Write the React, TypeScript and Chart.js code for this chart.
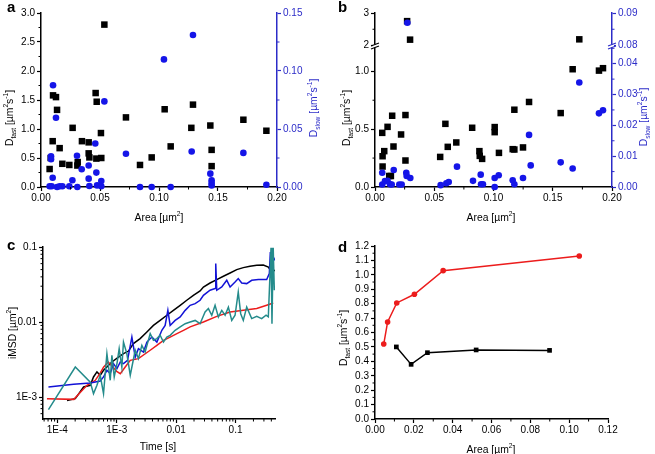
import React, { useEffect, useRef } from 'react';
import { Chart, registerables } from 'chart.js';

Chart.register(...registerables);

const W = 655;
const H = 454;
const FONT = "'Liberation Sans', Arial, Helvetica, sans-serif";
const BLACK = '#000000';
const BLUE_PT = '#1515e8';
const BLUE_AX = '#2c2cc8';
const RED = '#ec1c1c';
const TEAL = '#248b8b';
const BLUE_LN = '#1212d6';

// ---------- Panel a ----------
const aFastArea = [0.0073, 0.0082, 0.0099, 0.0102, 0.0127, 0.0136, 0.0158, 0.0181, 0.024, 0.0268, 0.0311, 0.0308, 0.0347, 0.0404, 0.0404, 0.041, 0.0463, 0.0472, 0.0469, 0.0508, 0.0511, 0.0537, 0.072, 0.0839, 0.0938, 0.1048, 0.1099, 0.1274, 0.1288, 0.1435, 0.1446, 0.1446, 0.1715, 0.191];
const aFastD = [0.31, 0.5, 0.79, 1.58, 1.55, 1.33, 0.67, 0.4, 0.38, 1.02, 0.43, 0.37, 0.79, 0.77, 0.58, 0.51, 1.62, 1.47, 0.49, 0.93, 0.5, 2.8, 1.2, 0.38, 0.51, 1.34, 0.7, 1.02, 1.42, 1.06, 0.64, 0.36, 1.16, 0.97];
const aSlowArea = [0.0073, 0.0085, 0.0085, 0.009, 0.0099, 0.0102, 0.0127, 0.0136, 0.0158, 0.0181, 0.024, 0.0266, 0.0305, 0.0308, 0.0345, 0.0404, 0.0404, 0.041, 0.046, 0.0469, 0.0475, 0.0511, 0.0511, 0.0537, 0.072, 0.0839, 0.0938, 0.1042, 0.1099, 0.1288, 0.1277, 0.1435, 0.1446, 0.1446, 0.1446, 0.1715, 0.191];
const aSlowD = [0.0006, 0.0265, 0.024, 0.0006, 0.008, 0.0877, 0.0597, 0, 0.0006, 0.0006, 0.0006, 0.0058, 0.027, 0, 0.0153, 0.0185, 0.0072, 0.0009, 0.0375, 0.0124, 0.0014, 0.0052, 0.0006, 0.0738, 0.0286, 0, 0, 0.11, 0, 0.131, 0.0306, 0.0115, 0.0058, 0.0035, 0.0014, 0.0294, 0.002];
const areaTicks = [0, 0.05, 0.1, 0.15, 0.2];
const areaLabels = ['0.00', '0.05', '0.10', '0.15', '0.20'];
const aFastTicks = [0, 0.5, 1, 1.5, 2, 2.5, 3];
const aFastLabels = ['0.0', '0.5', '1.0', '1.5', '2.0', '2.5', '3.0'];
const aSlowTicks = [0, 0.05, 0.1, 0.15];
const aSlowLabels = ['0.00', '0.05', '0.10', '0.15'];

// ---------- Panel b ----------
const bFastArea = [0.0061, 0.0064, 0.0064, 0.0078, 0.0106, 0.012, 0.0134, 0.0145, 0.0156, 0.022, 0.0257, 0.0257, 0.0271, 0.0296, 0.055, 0.0594, 0.0614, 0.0686, 0.082, 0.0881, 0.0884, 0.0904, 0.101, 0.101, 0.1046, 0.1162, 0.1176, 0.1176, 0.1249, 0.13, 0.1567, 0.1668, 0.1724, 0.189, 0.1924];
const bFastD = [0.468, 0.266, 0.177, 0.31, 0.52, 0.095, 0.095, 0.616, 0.35, 0.454, 0.622, 0.229, 2.75, 2.18, 0.26, 0.546, 0.347, 0.385, 0.512, 0.31, 0.269, 0.243, 0.518, 0.474, 0.295, 0.327, 0.324, 0.668, 0.342, 0.735, 0.639, 1.018, 2.19, 1.006, 1.027];
const bSlowArea = [0.0061, 0.0061, 0.0084, 0.0106, 0.0127, 0.0141, 0.0158, 0.0205, 0.0225, 0.0264, 0.0267, 0.0273, 0.0298, 0.0554, 0.0602, 0.0622, 0.0692, 0.0827, 0.0892, 0.0895, 0.0911, 0.101, 0.101, 0.1044, 0.1162, 0.1176, 0.1249, 0.13, 0.1314, 0.1567, 0.1668, 0.1724, 0.189, 0.1924];
const bSlowD = [0.0046, 0.0008, 0.0019, 0.002, 0.0009, 0.0008, 0.0055, 0.0008, 0.0008, 0.0046, 0.0036, 0.087, 0.0029, 0.0006, 0.0012, 0.0016, 0.0066, 0.002, 0.004, 0.0009, 0.0009, 0.0029, 0, 0.0038, 0.0022, 0.0009, 0.0029, 0.0169, 0.007, 0.008, 0.006, 0.0339, 0.0239, 0.0249];
const bFastLowRange = [0, 1.223];
const bFastHighRange = [2, 3];
const bSlowLowRange = [0, 0.0459];
const bSlowHighRange = [0.08, 0.09];
const bFastLowTicks = [0, 0.5, 1];
const bFastLowLabels = ['0.0', '0.5', '1.0'];
const bFastHighTicks = [2, 3];
const bFastHighLabels = ['2', '3'];
const bSlowLowTicks = [0, 0.01, 0.02, 0.03, 0.04];
const bSlowLowLabels = ['0.00', '0.01', '0.02', '0.03', '0.04'];
const bSlowHighTicks = [0.08, 0.09];
const bSlowHighLabels = ['0.08', '0.09'];

// ---------- Panel c ----------
const cBlackT = [1.46e-4, 2.01e-4, 2.77e-4, 3.59e-4, 4.07e-4, 4.65e-4, 5.28e-4, 6.0e-4, 6.84e-4, 8.3e-4, 1.07e-3, 1.3e-3, 1.58e-3, 1.91e-3, 2.48e-3, 3.22e-3, 4.15e-3, 5.38e-3, 6.98e-3, 9.0e-3, 0.0117, 0.0151, 0.0195, 0.0253, 0.0288, 0.0372, 0.0483, 0.0624, 0.0809, 0.1047, 0.135, 0.175, 0.227, 0.293, 0.356, 0.405, 0.461];
const cBlackV = [0.0009, 0.00095, 0.00136, 0.00143, 0.00185, 0.00216, 0.00195, 0.00227, 0.00251, 0.00293, 0.00341, 0.00379, 0.0041, 0.00515, 0.006, 0.00736, 0.009, 0.0105, 0.0123, 0.0143, 0.0167, 0.0195, 0.0227, 0.0259, 0.0293, 0.0331, 0.0368, 0.0407, 0.045, 0.05, 0.0531, 0.0553, 0.057, 0.0575, 0.0541, 0.0464, 0.049];
const cBlueT = [7.1e-5, 1.88e-4, 3.59e-4, 5.28e-4, 6.0e-4, 6.84e-4, 7.78e-4, 8.83e-4, 1.01e-3, 1.15e-3, 1.3e-3, 1.52e-3, 1.8e-3, 2.05e-3, 2.32e-3, 2.82e-3, 3.22e-3, 3.91e-3, 4.74e-3, 5.75e-3, 6.53e-3, 7.26e-3, 7.93e-3, 9.62e-3, 0.0117, 0.0142, 0.0172, 0.0209, 0.0253, 0.0288, 0.0372, 0.0452, 0.0464, 0.0483, 0.0586, 0.0711, 0.0809, 0.0981, 0.111, 0.127, 0.154, 0.187, 0.242, 0.334, 0.37, 0.385, 0.41, 0.43, 0.46];
const cBlueV = [0.00136, 0.00148, 0.00154, 0.00163, 0.00185, 0.00227, 0.00205, 0.00279, 0.00239, 0.00293, 0.00279, 0.00308, 0.0063, 0.00341, 0.00441, 0.00398, 0.0054, 0.0063, 0.0054, 0.00775, 0.009, 0.0143, 0.009, 0.0105, 0.0117, 0.0143, 0.0167, 0.0176, 0.0195, 0.0227, 0.0265, 0.0279, 0.0601, 0.0265, 0.0293, 0.036, 0.0293, 0.0341, 0.0379, 0.0331, 0.0325, 0.036, 0.0368, 0.0368, 0.0441, 0.0858, 0.0398, 0.0736, 0.0665];
const cRedT = [6.7e-5, 1.9e-4, 2.3e-4, 3.16e-4, 4.36e-4, 5.3e-4, 6.0e-4, 7.2e-4, 8.3e-4, 1.0e-3, 1.15e-3, 1.39e-3, 1.69e-3, 2.32e-3, 3.66e-3, 4.74e-3, 6.12e-3, 7.93e-3, 0.0103, 0.0133, 0.0172, 0.0288, 0.0483, 0.0809, 0.135, 0.227, 0.334, 0.43];
const cRedV = [0.00095, 0.00093, 0.0011, 0.00143, 0.00167, 0.0021, 0.0025, 0.00293, 0.0026, 0.0022, 0.00205, 0.00251, 0.00308, 0.00325, 0.0042, 0.00489, 0.0057, 0.0063, 0.007, 0.00775, 0.0086, 0.01, 0.0119, 0.0136, 0.0143, 0.0151, 0.0167, 0.0179];
const cTealT = [7.1e-5, 2.01e-4, 3.59e-4, 4.07e-4, 4.65e-4, 5.28e-4, 6.0e-4, 6.84e-4, 7.78e-4, 8.3e-4, 9.08e-4, 1.01e-3, 1.1e-3, 1.22e-3, 1.3e-3, 1.48e-3, 1.69e-3, 2.05e-3, 2.32e-3, 2.65e-3, 3.01e-3, 3.66e-3, 4.15e-3, 4.74e-3, 5.38e-3, 6.12e-3, 6.98e-3, 7.93e-3, 9.62e-3, 0.0117, 0.0142, 0.0172, 0.0209, 0.0253, 0.0307, 0.0349, 0.0398, 0.0452, 0.0514, 0.0586, 0.0667, 0.0757, 0.0863, 0.0981, 0.111, 0.122, 0.135, 0.154, 0.187, 0.227, 0.275, 0.326, 0.356, 0.38, 0.395, 0.41, 0.43, 0.449];
const cTealV = [0.00068, 0.00251, 0.00158, 0.00111, 0.00143, 0.00195, 0.00111, 0.00379, 0.00167, 0.0036, 0.00185, 0.00279, 0.00441, 0.00251, 0.0054, 0.00379, 0.00195, 0.0042, 0.00325, 0.00489, 0.00398, 0.007, 0.0057, 0.006, 0.00665, 0.0054, 0.0063, 0.00665, 0.00775, 0.0086, 0.0095, 0.01, 0.0105, 0.0095, 0.0136, 0.0151, 0.0123, 0.0167, 0.0117, 0.0143, 0.0123, 0.0158, 0.0105, 0.0123, 0.0251, 0.0129, 0.0105, 0.0158, 0.0111, 0.0119, 0.0111, 0.0123, 0.0117, 0.0441, 0.098, 0.0095, 0.098, 0.0265];
const cTimeRange = [5.75e-5, 0.461];
const cMsdRange = [5.09e-4, 0.1];
const cTimeTicks = [1e-4, 1e-3, 1e-2, 1e-1];
const cTimeLabels = ['1E-4', '1E-3', '0.01', '0.1'];
const cMsdTicks = [1e-3, 1e-2, 1e-1];
const cMsdLabels = ['1E-3', '0.01', '0.1'];

// ---------- Panel d ----------
const dRedArea = [0.0045, 0.0065, 0.0112, 0.0203, 0.0351, 0.1052];
const dRedD = [0.52, 0.673, 0.805, 0.865, 1.029, 1.131];
const dBlackArea = [0.011, 0.0186, 0.027, 0.0521, 0.0899];
const dBlackD = [0.5, 0.379, 0.46, 0.479, 0.476];
const dAreaTicks = [0, 0.02, 0.04, 0.06, 0.08, 0.1, 0.12];
const dAreaLabels = ['0.00', '0.02', '0.04', '0.06', '0.08', '0.10', '0.12'];
const dDTicks = [0, 0.1, 0.2, 0.3, 0.4, 0.5, 0.6, 0.7, 0.8, 0.9, 1.0, 1.1, 1.2];
const dDLabels = ['0.0', '0.1', '0.2', '0.3', '0.4', '0.5', '0.6', '0.7', '0.8', '0.9', '1.0', '1.1', '1.2'];

// ---------- helpers ----------
const pts = (xs: number[], ys: number[]) => xs.map((x, i) => ({ x, y: ys[i] }));
const pick = (xs: number[], ys: number[], keep: (y: number) => boolean) =>
  pts(xs, ys).filter((p) => keep(p.y));

const halfMinors = (ticks: number[], lo: number, hi: number) => {
  const step = ticks[1] - ticks[0];
  return [ticks[0] - step / 2, ...ticks.map((t) => t + step / 2)].filter(
    (v) => v >= lo - 1e-9 && v <= hi + 1e-9
  );
};
const logMinors = (lo: number, hi: number) => {
  const out: number[] = [];
  for (let e = -6; e <= 1; e++) {
    for (let m = 2; m <= 9; m++) {
      const v = m * Math.pow(10, e);
      if (v >= lo && v <= hi) out.push(v);
    }
  }
  return out;
};

type Seg = { t: string; k?: 'sub' | 'sup' };
type TitleSpec = { segs: Seg[]; x: number; y: number; vertical?: boolean; color?: string };
type MinorSpec = { id: string; values: number[]; color?: string };
type DecoSpec = {
  letter: { t: string; x: number; y: number };
  titles: TitleSpec[];
  minors: MinorSpec[];
  breaks?: { id: string; color: string }[];
};

const D_FAST: Seg[] = [{ t: 'D' }, { t: 'fast', k: 'sub' }, { t: ' [µm' }, { t: '2', k: 'sup' }, { t: 's' }, { t: '-1', k: 'sup' }, { t: ']' }];
const D_SLOW: Seg[] = [{ t: 'D' }, { t: 'slow', k: 'sub' }, { t: ' [µm' }, { t: '2', k: 'sup' }, { t: 's' }, { t: '-1', k: 'sup' }, { t: ']' }];
const AREA: Seg[] = [{ t: 'Area [µm' }, { t: '2', k: 'sup' }, { t: ']' }];
const IMSD: Seg[] = [{ t: 'iMSD [µm' }, { t: '2', k: 'sup' }, { t: ']' }];
const TIME: Seg[] = [{ t: 'Time [s]' }];

function drawRich(ctx: CanvasRenderingContext2D, spec: TitleSpec) {
  const size = 11.5;
  const small = size * 0.64;
  ctx.save();
  ctx.translate(spec.x, spec.y);
  if (spec.vertical) ctx.rotate(-Math.PI / 2);
  ctx.scale(0.9, 1);
  ctx.fillStyle = spec.color || BLACK;
  ctx.textBaseline = 'alphabetic';
  ctx.textAlign = 'left';
  let w = 0;
  for (const s of spec.segs) {
    ctx.font = `${s.k ? small : size}px ${FONT}`;
    w += ctx.measureText(s.t).width;
  }
  let cx = -w / 2;
  const base = size * 0.36;
  for (const s of spec.segs) {
    ctx.font = `${s.k ? small : size}px ${FONT}`;
    const dy = s.k === 'sub' ? size * 0.28 : s.k === 'sup' ? -size * 0.42 : 0;
    ctx.fillText(s.t, cx, base + dy);
    cx += ctx.measureText(s.t).width;
  }
  ctx.restore();
}

function makeDeco(d: DecoSpec) {
  return {
    id: 'deco',
    afterDraw(chart: any) {
      const ctx: CanvasRenderingContext2D = chart.ctx;
      for (const m of d.minors) {
        const s = chart.scales[m.id];
        if (!s) continue;
        ctx.save();
        ctx.strokeStyle = m.color || BLACK;
        ctx.lineWidth = 1;
        ctx.beginPath();
        for (const v of m.values) {
          if (v < s.min || v > s.max) continue;
          const p = s.getPixelForValue(v);
          if (s.isHorizontal()) {
            ctx.moveTo(p, s.top);
            ctx.lineTo(p, s.top + 2.5);
          } else if (s.position === 'left') {
            ctx.moveTo(s.right, p);
            ctx.lineTo(s.right - 2.5, p);
          } else {
            ctx.moveTo(s.left, p);
            ctx.lineTo(s.left + 2.5, p);
          }
        }
        ctx.stroke();
        ctx.restore();
      }
      for (const b of d.breaks || []) {
        const s = chart.scales[b.id];
        if (!s) continue;
        const x = s.position === 'left' ? s.right : s.left;
        const y = s.bottom;
        ctx.save();
        ctx.fillStyle = '#ffffff';
        ctx.fillRect(x - 2, y - 1, 4, 3);
        ctx.strokeStyle = b.color;
        ctx.lineWidth = 1.2;
        ctx.beginPath();
        ctx.moveTo(x - 4, y + 0.5);
        ctx.lineTo(x + 4, y - 2.5);
        ctx.moveTo(x - 4, y + 3.5);
        ctx.lineTo(x + 4, y + 0.5);
        ctx.stroke();
        ctx.restore();
      }
      for (const t of d.titles) drawRich(ctx, t);
      ctx.save();
      ctx.fillStyle = BLACK;
      ctx.font = `bold 15px ${FONT}`;
      ctx.textBaseline = 'alphabetic';
      ctx.textAlign = 'left';
      ctx.fillText(d.letter.t, d.letter.x, d.letter.y);
      ctx.restore();
    },
  };
}

type AxisOpts = {
  pos: 'left' | 'right' | 'bottom';
  type?: 'linear' | 'logarithmic';
  min: number;
  max: number;
  ticks: number[];
  labels: string[];
  color?: string;
  stack?: string;
  weight?: number;
};

function axis(o: AxisOpts) {
  const color = o.color || BLACK;
  const horiz = o.pos === 'bottom';
  const s: any = {
    type: o.type || 'linear',
    position: o.pos,
    bounds: 'data',
    min: o.min,
    max: o.max,
    border: { display: true, color, width: 1.5 },
    grid: { display: true, drawOnChartArea: false, drawTicks: true, tickLength: 4, tickWidth: 1.2, color },
    ticks: {
      color,
      font: { family: FONT, size: 10 },
      padding: horiz ? 1 : 2,
      autoSkip: false,
      maxRotation: 0,
      minRotation: 0,
      callback: (_v: any, i: number) => o.labels[i] ?? '',
    },
    afterBuildTicks: (sc: any) => {
      sc.ticks = o.ticks.map((v) => ({ value: v }));
    },
    afterFit: (sc: any) => {
      if (horiz) sc.height = 20;
      else sc.width = 30;
    },
  };
  if (o.stack) {
    s.stack = o.stack;
    s.stackWeight = o.weight;
  }
  return s;
}

function baseOptions(padding: any, scales: any) {
  return {
    responsive: false,
    maintainAspectRatio: false,
    animation: false,
    events: [],
    layout: { padding },
    plugins: { legend: { display: false }, title: { display: false }, tooltip: { enabled: false } },
    scales,
  };
}

const scatterSet = (data: any[], yAxisID: string, color: string, style: string, r: number, order: number) => ({
  data,
  yAxisID,
  xAxisID: 'x',
  showLine: false,
  pointStyle: style,
  pointRadius: r,
  pointHoverRadius: r,
  pointBackgroundColor: color,
  pointBorderColor: color,
  pointBorderWidth: 0,
  backgroundColor: color,
  borderColor: color,
  clip: false,
  order,
});

function makeA(canvas: HTMLCanvasElement) {
  return new Chart(canvas, {
    type: 'scatter',
    data: {
      datasets: [
        scatterSet(pts(aSlowArea, aSlowD), 'yR', BLUE_PT, 'circle', 3.3, 0),
        scatterSet(pts(aFastArea, aFastD), 'y', BLACK, 'rect', 4.6, 1),
      ] as any,
    },
    options: baseOptions({ left: 11, right: 348, top: 13, bottom: 247 }, {
      x: axis({ pos: 'bottom', min: 0, max: 0.2, ticks: areaTicks, labels: areaLabels }),
      y: axis({ pos: 'left', min: 0, max: 3, ticks: aFastTicks, labels: aFastLabels }),
      yR: axis({ pos: 'right', min: 0, max: 0.15, ticks: aSlowTicks, labels: aSlowLabels, color: BLUE_AX }),
    }) as any,
    plugins: [
      makeDeco({
        letter: { t: 'a', x: 7, y: 12 },
        titles: [
          { segs: D_FAST, x: 9, y: 118, vertical: true },
          { segs: D_SLOW, x: 313, y: 108, vertical: true, color: BLUE_AX },
          { segs: AREA, x: 159, y: 217 },
        ],
        minors: [
          { id: 'x', values: halfMinors(areaTicks, 0, 0.2) },
          { id: 'y', values: halfMinors(aFastTicks, 0, 3) },
          { id: 'yR', values: halfMinors(aSlowTicks, 0, 0.15), color: BLUE_AX },
        ],
      }),
    ],
  });
}

function makeB(canvas: HTMLCanvasElement) {
  const hiF = (v: number) => v >= bFastHighRange[0];
  const hiS = (v: number) => v >= bSlowHighRange[0];
  return new Chart(canvas, {
    type: 'scatter',
    data: {
      datasets: [
        scatterSet(pick(bSlowArea, bSlowD, (v) => !hiS(v)), 'rL', BLUE_PT, 'circle', 3.3, 0),
        scatterSet(pick(bSlowArea, bSlowD, hiS), 'rU', BLUE_PT, 'circle', 3.3, 0),
        scatterSet(pick(bFastArea, bFastD, (v) => !hiF(v)), 'yL', BLACK, 'rect', 4.6, 1),
        scatterSet(pick(bFastArea, bFastD, hiF), 'yU', BLACK, 'rect', 4.6, 1),
      ] as any,
    },
    options: baseOptions({ left: 345, right: 13, top: 13, bottom: 247 }, {
      x: axis({ pos: 'bottom', min: 0, max: 0.2, ticks: areaTicks, labels: areaLabels }),
      yL: axis({ pos: 'left', min: bFastLowRange[0], max: bFastLowRange[1], ticks: bFastLowTicks, labels: bFastLowLabels, stack: 'L', weight: 141 }),
      yU: axis({ pos: 'left', min: bFastHighRange[0], max: bFastHighRange[1], ticks: bFastHighTicks, labels: bFastHighLabels, stack: 'L', weight: 32.4 }),
      rU: axis({ pos: 'right', min: bSlowHighRange[0], max: bSlowHighRange[1], ticks: bSlowHighTicks, labels: bSlowHighLabels, color: BLUE_AX, stack: 'R', weight: 32.4 }),
      rL: axis({ pos: 'right', min: bSlowLowRange[0], max: bSlowLowRange[1], ticks: bSlowLowTicks, labels: bSlowLowLabels, color: BLUE_AX, stack: 'R', weight: 141 }),
    }) as any,
    plugins: [
      makeDeco({
        letter: { t: 'b', x: 338, y: 12 },
        titles: [
          { segs: D_FAST, x: 346, y: 118, vertical: true },
          { segs: D_SLOW, x: 643, y: 117, vertical: true, color: BLUE_AX },
          { segs: AREA, x: 491, y: 217 },
        ],
        minors: [
          { id: 'x', values: halfMinors(areaTicks, 0, 0.2) },
          { id: 'yL', values: halfMinors(bFastLowTicks, bFastLowRange[0], bFastLowRange[1]) },
          { id: 'yU', values: halfMinors(bFastHighTicks, bFastHighRange[0], bFastHighRange[1]) },
          { id: 'rL', values: halfMinors(bSlowLowTicks, bSlowLowRange[0], bSlowLowRange[1]), color: BLUE_AX },
          { id: 'rU', values: halfMinors(bSlowHighTicks, bSlowHighRange[0], bSlowHighRange[1]), color: BLUE_AX },
        ],
        breaks: [
          { id: 'yU', color: BLACK },
          { id: 'rU', color: BLUE_AX },
        ],
      }),
    ],
  });
}

const lineSet = (data: any[], color: string, order: number) => ({
  data,
  xAxisID: 'x',
  yAxisID: 'y',
  showLine: true,
  borderColor: color,
  backgroundColor: color,
  borderWidth: 1.5,
  pointRadius: 0,
  pointHoverRadius: 0,
  tension: 0,
  order,
});

function makeC(canvas: HTMLCanvasElement) {
  return new Chart(canvas, {
    type: 'scatter',
    data: {
      datasets: [
        lineSet(pts(cTealT, cTealV), TEAL, 0),
        lineSet(pts(cBlueT, cBlueV), BLUE_LN, 1),
        lineSet(pts(cRedT, cRedV), RED, 2),
        lineSet(pts(cBlackT, cBlackV), BLACK, 3),
      ] as any,
    },
    options: baseOptions({ left: 13, right: 380, top: 247, bottom: 15 }, {
      x: axis({ pos: 'bottom', type: 'logarithmic', min: cTimeRange[0], max: cTimeRange[1], ticks: cTimeTicks, labels: cTimeLabels }),
      y: axis({ pos: 'left', type: 'logarithmic', min: cMsdRange[0], max: cMsdRange[1], ticks: cMsdTicks, labels: cMsdLabels }),
    }) as any,
    plugins: [
      makeDeco({
        letter: { t: 'c', x: 7, y: 250 },
        titles: [
          { segs: IMSD, x: 12, y: 333, vertical: true },
          { segs: TIME, x: 158, y: 446 },
        ],
        minors: [
          { id: 'x', values: logMinors(cTimeRange[0], cTimeRange[1]) },
          { id: 'y', values: logMinors(cMsdRange[0], cMsdRange[1]) },
        ],
      }),
    ],
  });
}

function makeD(canvas: HTMLCanvasElement) {
  const connected = (data: any[], color: string, style: string, r: number, order: number) => ({
    data,
    xAxisID: 'x',
    yAxisID: 'y',
    showLine: true,
    borderColor: color,
    backgroundColor: color,
    borderWidth: 1.5,
    pointStyle: style,
    pointRadius: r,
    pointHoverRadius: r,
    pointBackgroundColor: color,
    pointBorderColor: color,
    pointBorderWidth: 0,
    tension: 0,
    clip: false,
    order,
  });
  return new Chart(canvas, {
    type: 'scatter',
    data: {
      datasets: [
        connected(pts(dRedArea, dRedD), RED, 'circle', 2.8, 0),
        connected(pts(dBlackArea, dBlackD), BLACK, 'rect', 3.3, 1),
      ] as any,
    },
    options: baseOptions({ left: 345, right: 47, top: 246, bottom: 15 }, {
      x: axis({ pos: 'bottom', min: 0, max: 0.12, ticks: dAreaTicks, labels: dAreaLabels }),
      y: axis({ pos: 'left', min: 0, max: 1.2, ticks: dDTicks, labels: dDLabels }),
    }) as any,
    plugins: [
      makeDeco({
        letter: { t: 'd', x: 338, y: 252 },
        titles: [
          { segs: D_FAST, x: 343, y: 338, vertical: true },
          { segs: AREA, x: 491, y: 449 },
        ],
        minors: [
          { id: 'x', values: halfMinors(dAreaTicks, 0, 0.12) },
          { id: 'y', values: halfMinors(dDTicks, 0, 1.2) },
        ],
      }),
    ],
  });
}

function Panel({ make }: { make: (c: HTMLCanvasElement) => Chart }) {
  const ref = useRef<HTMLCanvasElement>(null);
  useEffect(() => {
    if (!ref.current) return;
    const ch = make(ref.current);
    return () => ch.destroy();
  }, [make]);
  return (
    <canvas
      ref={ref}
      width={W}
      height={H}
      style={{ position: 'absolute', left: 0, top: 0, width: W, height: H }}
    />
  );
}

export default function App() {
  return (
    <div
      style={{
        position: 'absolute',
        left: 0,
        top: 0,
        width: W,
        height: H,
        background: '#ffffff',
        overflow: 'hidden',
      }}
    >
      <Panel make={makeA} />
      <Panel make={makeB} />
      <Panel make={makeC} />
      <Panel make={makeD} />
    </div>
  );
}
